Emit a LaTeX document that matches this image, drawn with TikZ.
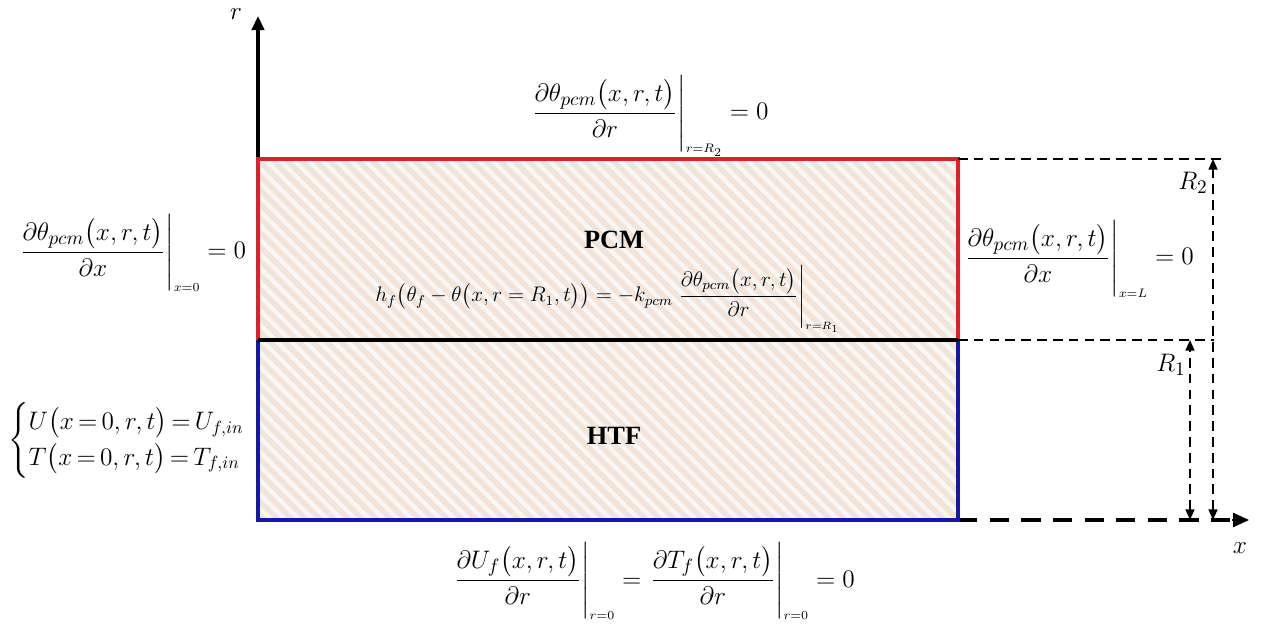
\documentclass[tikz,border=0pt]{standalone}
\usepackage{amsmath}
\usepackage{fontspec}
\setmainfont{Liberation Serif}
\usetikzlibrary{arrows.meta,patterns.meta}
\definecolor{pcmfill}{RGB}{240,228,219}
\definecolor{stripe}{RGB}{250,246,243}
\definecolor{pcmred}{RGB}{222,32,42}
\definecolor{htfblue}{RGB}{22,22,168}
\newcommand{\sub}[1]{{\scriptscriptstyle #1}}
\tikzset{
  eq/.style={inner sep=0pt,font=\fontsize{15}{18}\selectfont},
  smalleq/.style={inner sep=0pt,font=\fontsize{12}{14}\selectfont},
  caseseq/.style={inner sep=0pt,font=\fontsize{14.4}{17}\selectfont},
  dimline/.style={line width=1.1pt,dash pattern=on 5.5pt off 3.5pt},
  dimarrow/.style={dimline,{Triangle[length=6pt,width=5pt]}-{Triangle[length=6pt,width=5pt]}},
}
\begin{document}
\begin{tikzpicture}[x=0.02cm,y=-0.02cm,font=\fontsize{15}{18}\selectfont]
  \useasboundingbox (0,0) rectangle (1271,631);
  % corners of the domain
  \coordinate (O) at (258,520);
  \coordinate (A) at (958,520);
  \coordinate (B) at (958,340);
  \coordinate (C) at (958,159);
  \coordinate (D) at (258,159);
  \coordinate (E) at (258,340);
  \coordinate (rtip) at (258,16);
  \coordinate (xend) at (1232,520);
  \coordinate (xtip) at (1249,520);
  \coordinate (Ctop) at (1222,159);
  \coordinate (Bend) at (1214,340);
  \coordinate (R2a) at (1213,159);
  \coordinate (R2b) at (1213,520);
  \coordinate (R1a) at (1190,340);
  \coordinate (R1b) at (1190,520);
  % hatched domain
  \fill[pcmfill] (O) rectangle (C);
  \fill[pattern={Lines[angle=-45,distance=5.7pt,line width=2.5pt]},pattern color=stripe] (O) rectangle (C);
  % axes
  \draw[line width=2.2pt,-{Triangle[length=8pt,width=7pt]}] (O) -- (rtip);
  \draw[line width=2.2pt,dash pattern=on 11pt off 7pt] (A) -- (xend);
  \draw[line width=1pt,-{Triangle[length=9pt,width=8pt]}] (xend) -- (xtip);
  % domain borders
  \draw[pcmred,line width=1.8pt] (E) -- (D) -- (C) -- (B);
  \draw[htfblue,line width=2.2pt] (E) -- (O) -- (A) -- (B);
  \draw[black,line width=1.8pt] (E) -- (B);
  % dimensions
  \draw[dimline] (C) -- (Ctop);
  \draw[dimline] (B) -- (Bend);
  \draw[dimarrow] (R2b) -- (R2a);
  \draw[dimarrow] (R1b) -- (R1a);
  \node (R2) at (1193,183) {$R_2$};
  \node (R1) at (1171,365) {$R_1$};
  % axis labels
  \node (r) at (236,14) {$r$};
  \node (x) at (1240,548) {$x$};
  % regions
  \node[font=\fontsize{15}{18}\bfseries] (pcm) at (614,240) {PCM};
  \node[font=\fontsize{15}{18}\bfseries] (htf) at (614,436) {HTF};
  % boundary conditions
  \node[eq,anchor=base west] (bcTop) at (530,120)
    {$\left.\dfrac{\partial\theta_{pcm}\bigl(x,r,t\bigr)}{\partial r}\right|_{\sub{r=R_2}}=0$};
  \node[eq,anchor=base west] (bcLeft) at (18,259)
    {$\left.\dfrac{\partial\theta_{pcm}\bigl(x,r,t\bigr)}{\partial x}\right|_{\sub{x=0}}=0$};
  \node[eq,anchor=base west] (bcRight) at (963,265)
    {$\left.\dfrac{\partial\theta_{pcm}\bigl(x,r,t\bigr)}{\partial x}\right|_{\sub{x=L}}=0$};
  \node[smalleq,anchor=base west] (bcMid) at (375,302)
    {$h_f\bigl(\theta_f-\theta\bigl(x,r=R_1,t\bigr)\bigr)=-k_{pcm}\left.\dfrac{\partial\theta_{pcm}\bigl(x,r,t\bigr)}{\partial r}\right|_{\sub{r=R_1}}$};
  \node[caseseq,anchor=west] (bcIn) at (8,440)
    {$\thickmuskip=3mu\relax\begin{cases}U\bigl(x=0,r,t\bigr)=U_{f,in}\\ T\bigl(x=0,r,t\bigr)=T_{f,in}\end{cases}$};
  \node[eq,anchor=base west] (bcBot) at (452,587)
    {$\left.\dfrac{\partial U_f\bigl(x,r,t\bigr)}{\partial r}\right|_{\sub{r=0}}=\left.\dfrac{\partial T_f\bigl(x,r,t\bigr)}{\partial r}\right|_{\sub{r=0}}=0$};
\end{tikzpicture}
\end{document}
